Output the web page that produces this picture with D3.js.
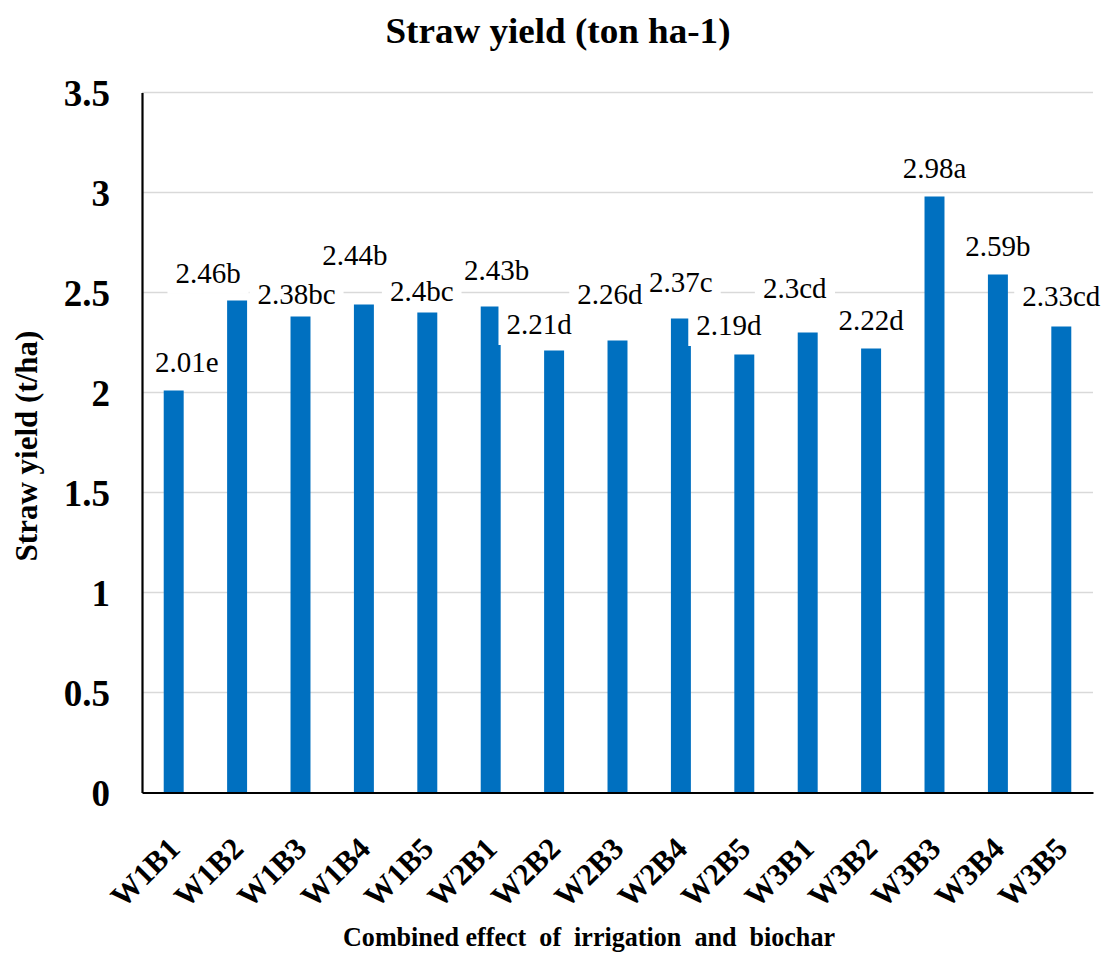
<!DOCTYPE html>
<html>
<head>
<meta charset="utf-8">
<script src="https://cdn.jsdelivr.net/npm/d3@7"></script>
<style>
  html, body { margin: 0; padding: 0; background: #fff; }
  svg { display: block; }
  text { font-family: "Liberation Serif", "Times New Roman", serif; }
</style>
</head>
<body>
<svg id="chart" width="1104" height="958"></svg>
<script>
// ---- data ----
const categories = ["W1B1","W1B2","W1B3","W1B4","W1B5","W2B1","W2B2","W2B3","W2B4","W2B5","W3B1","W3B2","W3B3","W3B4","W3B5"];
const values = [2.01, 2.46, 2.38, 2.44, 2.4, 2.43, 2.21, 2.26, 2.37, 2.19, 2.3, 2.22, 2.98, 2.59, 2.33];
const letters = ["e","b","bc","b","bc","b","d","d","c","d","cd","d","a","b","cd"];
const yTicks = [0, 0.5, 1, 1.5, 2, 2.5, 3, 3.5];
const titleText = "Straw yield (ton ha-1)";
const yTitleText = "Straw yield (t/ha)";
const xTitleText = "Combined effect  of  irrigation  and  biochar";

// label placement (manually positioned in the original): baseline in data units, x offset in px
const labelBaseline = [2.104, 2.548, 2.4425, 2.6375, 2.4575, 2.563, 2.2925, 2.4425, 2.5025, 2.2875, 2.4725, 2.3125, 3.0725, 2.6825, 2.4325];
const labelDx = [13, -29, -4, -9, -5.6, 6, -15, -7.6, 0, -15.4, -13, 0, 0, 0, 0];

// ---- layout ----
const svg = d3.select("#chart");
const plotLeft = 142, plotRight = 1093, plotTop = 92.5, plotBottom = 792.5;

const x = d3.scaleBand().domain(categories).range([plotLeft, plotRight]).paddingInner(0.685).paddingOuter(0.3425);
const y = d3.scaleLinear().domain([0, 3.5]).range([plotBottom, plotTop]);

// gridlines
svg.append("g").selectAll("line").data(yTicks.filter(d => d > 0)).join("line")
  .attr("x1", plotLeft).attr("x2", plotRight)
  .attr("y1", d => y(d)).attr("y2", d => y(d))
  .attr("stroke", "#d9d9d9").attr("stroke-width", 1.6);

// bars
svg.append("g").selectAll("rect").data(categories).join("rect")
  .attr("x", d => x(d))
  .attr("width", x.bandwidth())
  .attr("y", (d, i) => y(values[i]))
  .attr("height", (d, i) => y(0) - y(values[i]))
  .attr("fill", "#0070C0");

// data labels with white boxes
const lg = svg.append("g");
categories.forEach((c, i) => {
  const cx = x(c) + x.bandwidth() / 2 + labelDx[i];
  const by = y(labelBaseline[i]);
  const g = lg.append("g");
  const rect = g.append("rect").attr("fill", "#fff");
  const t = g.append("text")
    .attr("x", cx).attr("y", by)
    .attr("text-anchor", "middle")
    .attr("font-size", 29)
    .attr("fill", "#000")
    .text(values[i] + letters[i]);
  const bb = t.node().getBBox();
  rect.attr("x", bb.x - 8).attr("y", bb.y - 2)
      .attr("width", bb.width + 16).attr("height", bb.height + 7);
});

// axes
const yAxis = svg.append("g").attr("transform", `translate(${plotLeft},0)`)
  .call(d3.axisLeft(y).tickValues(yTicks).tickSize(0).tickPadding(32).tickFormat(d3.format("")));
yAxis.select(".domain").attr("stroke", "#000").attr("stroke-width", 2.2);
yAxis.selectAll("text")
  .attr("font-size", 37).attr("font-weight", "bold").attr("fill", "#000")
  .attr("dy", "0.34em");

const xAxis = svg.append("g").attr("transform", `translate(0,${plotBottom})`)
  .call(d3.axisBottom(x).tickSize(0).tickPadding(0));
xAxis.select(".domain").attr("stroke", "#000").attr("stroke-width", 2.2);
xAxis.selectAll("text")
  .attr("font-size", 31).attr("font-weight", "bold").attr("fill", "#000")
  .attr("text-anchor", "end")
  .attr("dy", 0).attr("y", 0)
  .attr("transform", "translate(8,58) rotate(-45)");

// title
svg.append("text")
  .attr("x", 558).attr("y", 43)
  .attr("text-anchor", "middle")
  .attr("font-size", 35).attr("font-weight", "bold")
  .attr("textLength", 345).attr("lengthAdjust", "spacingAndGlyphs")
  .text(titleText);

// y title
svg.append("text")
  .attr("transform", "translate(37,446) rotate(-90)")
  .attr("text-anchor", "middle")
  .attr("font-size", 31).attr("font-weight", "bold")
  .text(yTitleText);

// x title
svg.append("text")
  .attr("x", 589).attr("y", 946)
  .attr("text-anchor", "middle")
  .attr("font-size", 27).attr("font-weight", "bold")
  .attr("textLength", 492).attr("lengthAdjust", "spacingAndGlyphs")
  .style("white-space", "pre")
  .text(xTitleText);
</script>
</body>
</html>
